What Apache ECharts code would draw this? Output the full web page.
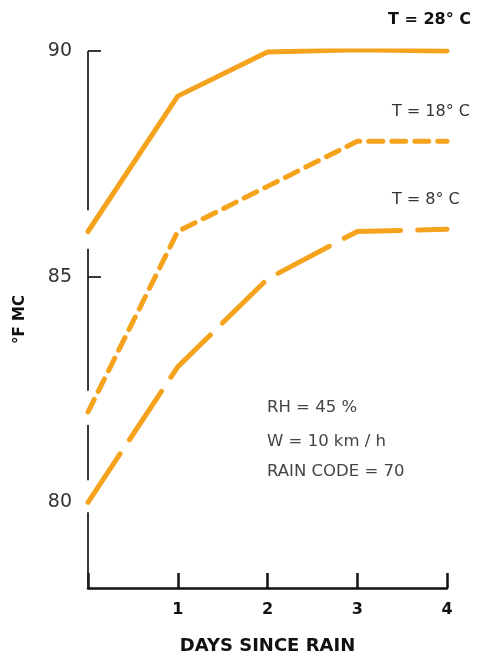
<!DOCTYPE html>
<html><head><meta charset="utf-8">
<script src="https://cdn.jsdelivr.net/npm/echarts@6/dist/echarts.min.js"></script>
<style>html,body{margin:0;padding:0;background:#fff}#c{width:478px;height:656px}</style>
</head><body><div id="c"></div>
<script>
const days = [0, 1, 2, 3, 4];
const fmc28 = [86, 89, 89.98, 90.03, 90];
const fmc18 = [82, 86, 87, 88, 88];
const fmc8 = [80, 83, 84.95, 86, 86.05];
const yLabelValues = [80, 85, 90];
const yTickValues = [85, 90];
const seriesNames = ['T = 28° C', 'T = 18° C', 'T = 8° C'];
const notes = ['RH = 45 %', 'W = 10 km / h', 'RAIN CODE = 70'];
// y-axis drawn as broken segments (gaps where curves start)
const yAxisSegments = [[90, 86.47], [85.62, 82.47], [81.71, 80.49], [79.78, 78.1]];

const ORANGE = '#F5A21C';
const FONT = '"DejaVu Sans", sans-serif';
const pairs = arr => days.map((d, i) => [d, arr[i]]);

const chart = echarts.init(document.getElementById('c'));
chart.setOption({
  animation: false,
  backgroundColor: '#fff',
  grid: { left: 88, right: 31, top: 51, bottom: 68, containLabel: false, outerBoundsMode: 'none' },
  xAxis: {
    type: 'value', min: 0, max: 4, interval: 1,
    axisLine: { lineStyle: { color: '#111', width: 2.5 } },
    axisTick: { inside: true, length: 15, lineStyle: { color: '#111', width: 2.5 } },
    axisLabel: { formatter: v => v === 0 ? '' : String(v), color: '#111', fontSize: 16, fontWeight: 'bold', fontFamily: FONT, margin: 14 },
    splitLine: { show: false },
    name: 'DAYS SINCE RAIN', nameLocation: 'middle', nameGap: 49,
    nameTextStyle: { color: '#111', fontSize: 18, fontWeight: 'bold', fontFamily: FONT }
  },
  yAxis: {
    type: 'value', min: 78.1, max: 90,
    axisLine: { show: false },
    axisTick: { show: true, inside: true, length: 13, customValues: yTickValues, lineStyle: { color: '#222', width: 1.8 } },
    axisLabel: { customValues: yLabelValues, color: '#333', fontSize: 19, fontFamily: FONT, margin: 16 },
    splitLine: { show: false },
    name: '°F MC', nameLocation: 'middle', nameGap: 60, nameRotate: 90,
    nameTextStyle: { color: '#111', fontSize: 15, fontWeight: 'bold', fontFamily: FONT }
  },
  series: [
    {
      type: 'line', name: seriesNames[0], data: pairs(fmc28), symbol: 'none', z: 3,
      lineStyle: { color: ORANGE, width: 5, cap: 'round', join: 'round' },
      markLine: {
        silent: true, symbol: 'none', label: { show: false },
        lineStyle: { color: '#222', width: 1.8, type: 'solid' },
        data: yAxisSegments.map(s => [{ coord: [0, s[0]] }, { coord: [0, s[1]] }])
      }
    },
    {
      type: 'line', name: seriesNames[1], data: pairs(fmc18), symbol: 'none', z: 3,
      lineStyle: { color: ORANGE, width: 5, type: [14, 9], cap: 'round', join: 'round' }
    },
    {
      type: 'line', name: seriesNames[2], data: pairs(fmc8), symbol: 'none', z: 3,
      lineStyle: { color: ORANGE, width: 5, type: [58, 17], cap: 'round', join: 'round' }
    }
  ],
  graphic: [
    { type: 'text', left: 388, top: 12, style: { text: seriesNames[0], fill: '#111', font: 'bold 16px ' + FONT } },
    { type: 'text', left: 392, top: 104, style: { text: seriesNames[1], fill: '#333', font: '16px ' + FONT } },
    { type: 'text', left: 392, top: 192, style: { text: seriesNames[2], fill: '#333', font: '16px ' + FONT } },
    { type: 'text', left: 267, top: 399, style: { text: notes[0], fill: '#444', font: '16.5px ' + FONT } },
    { type: 'text', left: 267, top: 433, style: { text: notes[1], fill: '#444', font: '16.5px ' + FONT } },
    { type: 'text', left: 267, top: 463, style: { text: notes[2], fill: '#444', font: '16.5px ' + FONT } }
  ]
});
</script></body></html>
